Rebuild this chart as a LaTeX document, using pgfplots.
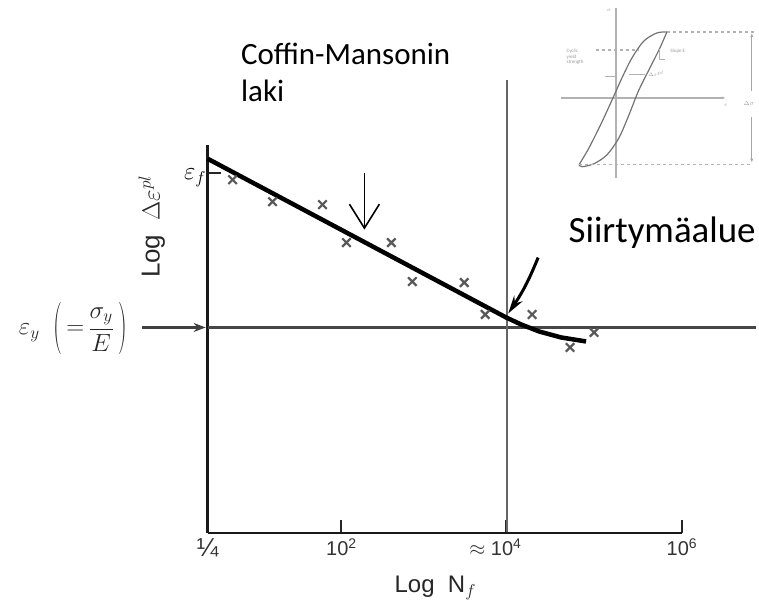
\documentclass[border=0pt]{standalone}
\usepackage{fontspec}
\setmainfont{Carlito}
\newfontfamily\labelfont{Liberation Sans}
\usepackage{graphicx}
\usepackage{pgfplots}
\pgfplotsset{compat=1.18}
\usetikzlibrary{arrows.meta}

% tall parentheses for the yield-strain label
\newcommand{\tallparen}[1]{\raisebox{-6.6pt}{\scalebox{1}[2.1]{#1}}}

% Test results: (position along log N_f, position along log strain)
\pgfplotstableread{
x   y
233 425
273 403
323 400
347 362
392 362
413 323
465 322
486 290
533 290
595 272
571 257
}\testpoints

% Fitted Coffin-Manson line, bending into the transition region
\pgfplotstableread{
x   y
208 446
507 287
522 280
540 273
562 267
587 263
}\cmline

\begin{document}
\begin{tikzpicture}
\begin{axis}[
  x=1pt, y=1pt,
  xmin=208, xmax=683, ymin=71, ymax=460,
  axis x line=bottom, axis y line=left,
  axis line style={line width=2.6pt, -, black!90},
  clip=false,
  tick align=inside,
  major tick length=13pt,
  tick style={line width=2pt, black!85},
  xtick={208,342,507,683},
  xticklabels={
    {\fontsize{26}{26}\selectfont ¼},
    10\textsuperscript{2},
    \llap{$\approx$\ }10\textsuperscript{4},
    10\textsuperscript{6}},
  xticklabel style={font=\labelfont\fontsize{20}{22}\selectfont, text=black!80, yshift=-2pt},
  ytick={432},
  yticklabels={$\varepsilon_f$},
  yticklabel style={font=\fontsize{24}{26}\selectfont, yshift=-5pt, xshift=2pt},
  xlabel={Log\ \ N$_f$},
  xlabel style={at={(axis cs:436,16)}, anchor=center, font=\labelfont\fontsize{24}{26}\selectfont, text=black!85},
  ylabel={Log\ \ $\Delta\varepsilon^{pl}$},
  ylabel style={at={(axis cs:152,378)}, anchor=center, font=\labelfont\fontsize{26}{28}\selectfont, text=black!85},
]
  \path (axis cs:0,0) rectangle (axis cs:759,605);

  % reference lines: yield strain level and transition life
  \addplot[black!72, line width=3.4pt] coordinates {(208,277) (757,277)};
  \addplot[black!60, line width=2.6pt] coordinates {(508,72) (508,525)};

  % Coffin-Manson line and test results
  \addplot[black, line width=4.5pt, line join=round] table {\cmline};
  \addplot[only marks, mark=x, mark size=6pt, black!65, mark options={line width=2.2pt}] table {\testpoints};

  % annotations
  \draw[line width=1.6pt, -{Straight Barb[length=24pt, width=30pt, line width=1.6pt]}] (axis cs:365,432) -- (axis cs:365,375);
  \draw[line width=3pt, -{Stealth[length=18pt, width=10pt]}] (axis cs:539,347) to[bend left=6] (axis cs:509,291);
  \draw[line width=2.2pt, black!75, -{Stealth[length=12pt, width=9pt]}] (axis cs:142,277) -- (axis cs:206,277);
  \node[font=\fontsize{24}{28}\selectfont, text=black!85] at (axis cs:73,276)
    {$\varepsilon_y\;\;\tallparen{$($}\,{=}\,\displaystyle\frac{\sigma_y}{E}\,\tallparen{$)$}$};

  \node[anchor=base west, font=\fontsize{31}{37}\selectfont] at (axis cs:238,540) {Coffin-Mansonin};
  \node[anchor=base west, font=\fontsize{31}{37}\selectfont] at (axis cs:238,503) {laki};
  \node[anchor=base west, font=\fontsize{37}{40}\selectfont] at (axis cs:566,362) {Siirtymäalue};

  % small sketch of a stabilised hysteresis loop
  \addplot[black!30, line width=1.4pt] coordinates {(617,597) (617,427)};
  \addplot[black!30, line width=1.4pt, -{Latex[length=4pt]}] coordinates {(562,507) (727,507)};
  \addplot[black!55, line width=1.2pt, smooth] coordinates {
    (580,440) (590,457) (603,483) (614,507) (623,527) (633,547) (645,564) (658,572) (668,573)};
  \addplot[black!55, line width=1.2pt, smooth] coordinates {
    (668,573) (661,557) (652,539) (640,515) (630,490) (620,467) (608,450) (595,441) (583,438) (580,440)};
  \addplot[black!30, line width=1.4pt, dashed] coordinates {(668,573) (755,573)};
  \addplot[black!30, line width=1.4pt, dashed] coordinates {(580,440) (752,440)};
  \addplot[black!30, line width=1.2pt, dashed] coordinates {(597,555) (640,555)};
  \addplot[black!30, line width=1.2pt] coordinates {(606,528) (616,528)};
  \addplot[black!30, line width=1.0pt] coordinates {(630,530) (646,530)};
  \addplot[black!30, line width=1.0pt] coordinates {(661,556) (661,545) (666,545)};
  \draw[black!35, line width=1.2pt, -{Latex[length=4pt]}] (axis cs:753,514) -- (axis cs:753,572);
  \draw[black!35, line width=1.2pt, -{Latex[length=4pt]}] (axis cs:753,488) -- (axis cs:753,442);
  \node[font=\fontsize{6}{6}\selectfont, text=black!40] at (axis cs:750,501) {$\Delta\sigma$};
  \node[font=\fontsize{5}{5}\selectfont, text=black!40] at (axis cs:610,595) {$\sigma$};
  \node[font=\fontsize{5}{5}\selectfont, text=black!40] at (axis cs:727,499) {$\varepsilon$};
  \node[font=\fontsize{5}{5.5}\selectfont, text=black!40, align=left] at (axis cs:576,548) {Cyclic\\yield\\strength};
  \node[font=\fontsize{5}{5}\selectfont, text=black!40, anchor=west] at (axis cs:668,554) {Slope E};
  \node[font=\fontsize{5}{5}\selectfont, text=black!40, anchor=west] at (axis cs:646,531) {$\Delta\varepsilon^{pl}$};
\end{axis}
\end{tikzpicture}
\end{document}
